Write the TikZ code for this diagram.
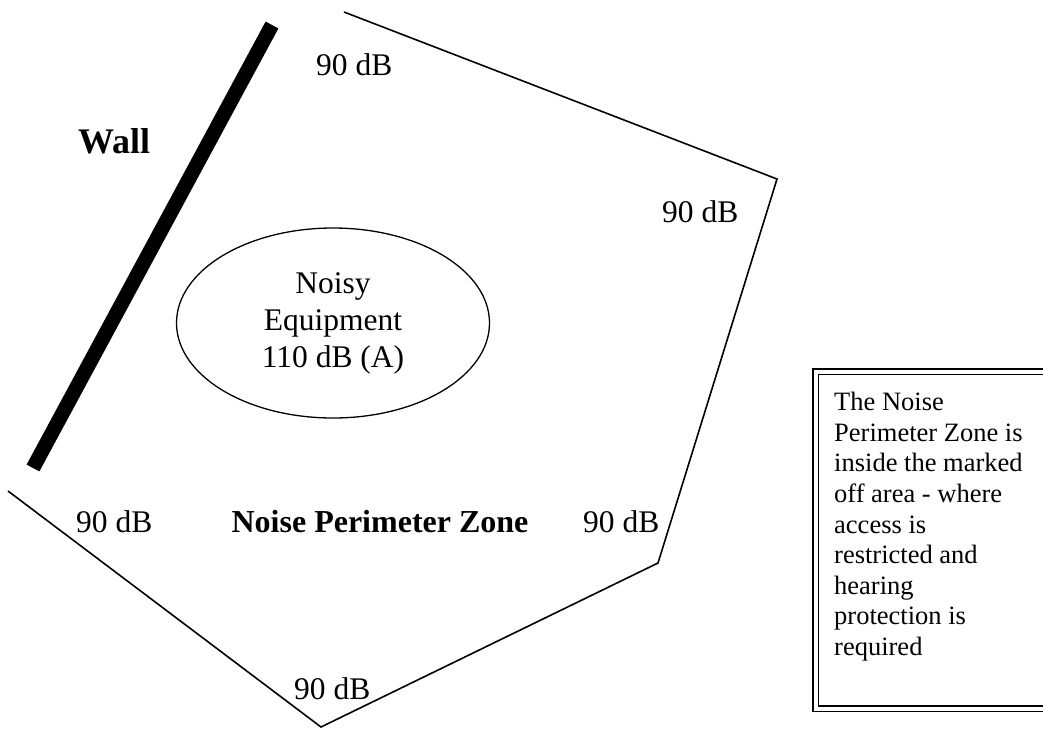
\documentclass[tikz,border=0pt]{standalone}
\usepackage{fontspec}
\setmainfont{Liberation Serif}
\usetikzlibrary{shapes.geometric}
\tikzset{
  lbl/.style={anchor=base west, inner sep=0, font=\fontsize{31.5}{37}\selectfont},
  zone/.style={line width=1.6, line join=miter},
  wallline/.style={line width=14.5, line cap=butt},
}
\begin{document}
\begin{tikzpicture}[x=1pt,y=-1pt]
\useasboundingbox (0,0) rectangle (1043,729);
% perimeter zone outline
\coordinate (A) at (8,491);
\coordinate (B) at (321,727);
\coordinate (C) at (658,563);
\coordinate (D) at (777,179);
\coordinate (E) at (344,12);
\draw[zone] (E) -- (D) -- (C) -- (B) -- (A);
% wall
\coordinate (w1) at (272,25);
\coordinate (w2) at (33,468);
\draw[wallline] (w1) -- (w2);
\node[anchor=base west, inner sep=0, font=\bfseries\fontsize{36}{40}\selectfont] (wall) at (78,153) {Wall};
% equipment
\node[draw, line width=1.3, ellipse, minimum width=313, minimum height=190, inner sep=0, align=center,
      font=\fontsize{31.5}{37}\selectfont] (equip) at (333,323) {Noisy\\Equipment\\110 dB (A)};
% labels
\node[lbl] (l1) at (316,75) {90 dB};
\node[lbl] (l2) at (662,222) {90 dB};
\node[lbl] (l3) at (76,532) {90 dB};
\node[lbl] (l4) at (583,532) {90 dB};
\node[lbl] (l5) at (294,699) {90 dB};
\node[anchor=base, inner sep=0, font=\bfseries\fontsize{32}{37}\selectfont] (npz) at (380,532) {Noise Perimeter Zone};
% note box
\node[draw, double, double distance=3.5, line width=1.7, anchor=north west, minimum width=265, minimum height=337, inner sep=0] (notebox) at (815,371) {};
\node[anchor=north west, inner sep=0, align=left, font=\fontsize{26.5}{30.6}\selectfont] (note) at (834,392)
 {The Noise\\Perimeter Zone is\\inside the marked\\off area - where\\access is\\restricted and\\hearing\\protection is\\required};
\end{tikzpicture}
\end{document}
